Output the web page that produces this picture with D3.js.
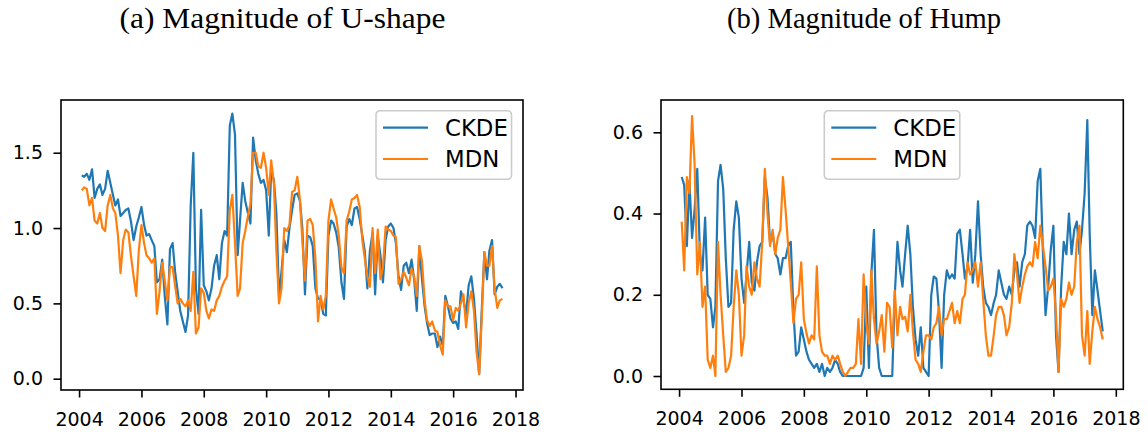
<!DOCTYPE html>
<html>
<head>
<meta charset="utf-8">
<script src="https://cdn.jsdelivr.net/npm/d3@7"></script>
<style>
  html, body { margin: 0; padding: 0; background: #ffffff; }
  svg { display: block; }
</style>
</head>
<body>
<svg id="chart" width="1148" height="434"></svg>
<script>
// Monthly observations, Feb 2004 through Aug 2017 (163 points per series).
const dates = d3.range(1, 164).map(m => new Date(2004, m, 1));

const seriesNames = ["CKDE", "MDN"];
const xTickYears = [2004, 2006, 2008, 2010, 2012, 2014, 2016, 2018];
const uShapeTicks = [0.0, 0.5, 1.0, 1.5];
const humpTicks = [0.0, 0.2, 0.4, 0.6];

// (a) magnitude of the U-shape
const ckdeUShape = [
  1.35, 1.34, 1.36, 1.32, 1.39, 1.20, 1.26, 1.29, 1.22, 1.26, 1.38,
  1.30, 1.22, 1.15, 1.19, 1.08, 1.10, 1.12, 1.13, 1.04, 0.92, 1.01, 1.07,
  1.14, 1.02, 0.95, 0.96, 0.92, 0.88, 0.64, 0.66, 0.79, 0.55, 0.36, 0.86,
  0.90, 0.70, 0.58, 0.45, 0.38, 0.31, 0.42, 1.15, 1.50, 0.60, 0.43, 1.12,
  0.62, 0.58, 0.52, 0.60, 0.75, 0.82, 0.66, 0.90, 0.98, 0.95, 1.68, 1.76,
  1.62, 0.82, 1.05, 1.30, 1.18, 1.10, 1.03, 1.60, 1.45, 1.36, 1.30, 1.32,
  1.25, 0.95, 1.38, 1.32, 1.10, 0.54, 0.72, 0.92, 0.84, 1.00, 1.12, 1.22,
  1.23, 1.18, 1.00, 0.56, 0.95, 0.94, 0.88, 0.60, 0.53, 0.53, 0.43, 0.42,
  0.95, 1.05, 1.03, 0.97, 0.87, 0.64, 0.53, 1.01, 1.06, 1.02, 1.13, 1.14,
  1.06, 0.95, 0.85, 0.60, 0.85, 0.97, 0.56, 0.95, 0.82, 0.64, 0.92, 1.01,
  1.03, 1.00, 0.90, 0.68, 0.59, 0.75, 0.77, 0.70, 0.79, 0.66, 0.45, 0.88,
  0.66, 0.48, 0.37, 0.29, 0.30, 0.30, 0.21, 0.28, 0.22, 0.55, 0.48, 0.40,
  0.37, 0.38, 0.33, 0.58, 0.52, 0.43, 0.62, 0.68, 0.53, 0.30, 0.03, 0.45,
  0.84, 0.66, 0.85, 0.92, 0.56, 0.61, 0.63, 0.60
];
const mdnUShape = [
  1.25, 1.27, 1.26, 1.15, 1.20, 1.05, 1.03, 1.10, 1.00, 0.98, 1.15,
  1.22, 1.13, 1.10, 0.95, 0.70, 0.92, 0.99, 0.97, 0.81, 0.68, 0.55, 0.85,
  1.02, 0.90, 0.82, 0.80, 0.77, 0.80, 0.43, 0.58, 0.77, 0.65, 0.52, 0.74,
  0.74, 0.61, 0.50, 0.53, 0.50, 0.48, 0.52, 0.45, 0.71, 0.30, 0.34, 0.60,
  0.57, 0.45, 0.40, 0.46, 0.45, 0.52, 0.55, 0.61, 0.65, 0.68, 1.12, 1.22,
  0.90, 0.55, 0.60, 0.90, 0.98, 1.08, 1.16, 1.50, 1.50, 1.41, 1.40, 1.50,
  1.40, 1.22, 1.45, 1.30, 0.85, 0.50, 0.60, 1.00, 0.98, 1.02, 1.24, 1.25,
  1.34, 1.19, 0.92, 0.65, 1.05, 1.06, 1.02, 0.80, 0.38, 0.55, 0.46, 0.55,
  1.05, 1.19, 1.13, 1.07, 0.95, 0.74, 0.70, 1.05, 1.11, 1.19, 1.20, 1.22,
  1.14, 0.92, 0.80, 0.68, 0.61, 1.00, 0.70, 0.99, 0.66, 0.74, 1.01, 0.99,
  0.98, 0.95, 0.94, 0.63, 0.66, 0.71, 0.67, 0.62, 0.73, 0.68, 0.55, 0.88,
  0.78, 0.52, 0.39, 0.35, 0.38, 0.32, 0.31, 0.22, 0.16, 0.52, 0.48, 0.48,
  0.39, 0.47, 0.45, 0.50, 0.56, 0.34, 0.50, 0.58, 0.45, 0.18, 0.03, 0.40,
  0.84, 0.75, 0.75, 0.88, 0.60, 0.47, 0.52, 0.53
];

// (b) magnitude of the hump
const ckdeHump = [
  0.49, 0.47, 0.32, 0.48, 0.34, 0.41, 0.51, 0.30, 0.26, 0.39, 0.20,
  0.19, 0.12, 0.17, 0.48, 0.52, 0.46, 0.29, 0.17, 0.18, 0.36, 0.43, 0.39,
  0.24, 0.18, 0.25, 0.33, 0.23, 0.21, 0.28, 0.32, 0.33, 0.49, 0.44, 0.33,
  0.35, 0.30, 0.29, 0.25, 0.29, 0.29, 0.32, 0.33, 0.16, 0.05, 0.06, 0.12,
  0.09, 0.06, 0.04, 0.03, 0.02, 0.03, 0.01, 0.03, 0.00, 0.02, 0.01, 0.02,
  0.04, 0.03, 0.01, 0.00, 0.00, 0.00, 0.00, 0.00, 0.00, 0.00, 0.00, 0.02,
  0.22, 0.02, 0.25, 0.36, 0.10, 0.02, 0.00, 0.00, 0.00, 0.00, 0.00, 0.20,
  0.33, 0.26, 0.22, 0.30, 0.37, 0.30, 0.17, 0.09, 0.05, 0.12, 0.02, 0.01,
  0.00, 0.20, 0.245, 0.24, 0.16, 0.02, 0.20, 0.26, 0.24, 0.25, 0.24, 0.35,
  0.36, 0.30, 0.24, 0.27, 0.36, 0.23, 0.30, 0.43, 0.30, 0.22, 0.18, 0.17,
  0.15, 0.18, 0.20, 0.26, 0.23, 0.20, 0.19, 0.22, 0.20, 0.26, 0.28, 0.22,
  0.28, 0.30, 0.37, 0.38, 0.37, 0.34, 0.48, 0.51, 0.30, 0.15, 0.22, 0.31,
  0.37, 0.10, 0.01, 0.22, 0.33, 0.30, 0.40, 0.30, 0.36, 0.38, 0.30, 0.36,
  0.45, 0.63, 0.35, 0.15, 0.26, 0.21, 0.16, 0.11
];
const mdnHump = [
  0.38, 0.26, 0.49, 0.45, 0.64, 0.52, 0.25, 0.33, 0.17, 0.22, 0.04,
  0.02, 0.05, 0.00, 0.33, 0.20, 0.10, 0.01, 0.02, 0.05, 0.17, 0.26, 0.20,
  0.05, 0.10, 0.27, 0.22, 0.20, 0.28, 0.24, 0.22, 0.33, 0.51, 0.40, 0.32,
  0.36, 0.30, 0.34, 0.36, 0.49, 0.41, 0.32, 0.23, 0.13, 0.19, 0.20, 0.28,
  0.14, 0.105, 0.08, 0.10, 0.09, 0.27, 0.10, 0.06, 0.05, 0.05, 0.03, 0.05,
  0.04, 0.05, 0.03, 0.01, 0.00, 0.01, 0.02, 0.02, 0.03, 0.14, 0.03, 0.25,
  0.13, 0.08, 0.26, 0.14, 0.08, 0.11, 0.15, 0.06, 0.18, 0.17, 0.07, 0.21,
  0.10, 0.17, 0.14, 0.146, 0.11, 0.20, 0.11, 0.04, 0.03, 0.01, 0.06, 0.10,
  0.10, 0.09, 0.12, 0.13, 0.17, 0.10, 0.14, 0.14, 0.16, 0.18, 0.13, 0.16,
  0.13, 0.19, 0.20, 0.28, 0.25, 0.26, 0.28, 0.22, 0.28, 0.19, 0.10, 0.05,
  0.05, 0.10, 0.15, 0.17, 0.17, 0.15, 0.10, 0.12, 0.18, 0.30, 0.25, 0.18,
  0.22, 0.25, 0.27, 0.28, 0.27, 0.33, 0.29, 0.37, 0.32, 0.27, 0.21, 0.22,
  0.24, 0.15, 0.01, 0.19, 0.17, 0.19, 0.23, 0.20, 0.22, 0.33, 0.37, 0.10,
  0.05, 0.16, 0.03, 0.11, 0.17, 0.14, 0.12, 0.09
];

const colors = ["#1f77b4", "#ff7f0e"];
const tickFont = "'DejaVu Sans', 'Liberation Sans', sans-serif";
const titleFont = "'Liberation Serif', 'DejaVu Serif', serif";

// Convert a fractional year to a Date (used for the axis limits).
function fromDecimalYear(v) {
  const yr = Math.floor(v);
  const a = new Date(yr, 0, 1), b = new Date(yr + 1, 0, 1);
  return new Date(+a + (v - yr) * (b - a));
}

const panels = [
  {
    title: "(a) Magnitude of U-shape", titleX: 282.5, titleWidth: 326,
    left: 61, right: 523, top: 100, bottom: 390,
    yDomain: [-0.075, 1.85], yTicks: uShapeTicks,
    series: [ckdeUShape, mdnUShape], legendX: 376
  },
  {
    title: "(b) Magnitude of Hump", titleX: 864, titleWidth: 274,
    left: 661, right: 1123.3, top: 100, bottom: 389.3,
    yDomain: [-0.0327, 0.6795], yTicks: humpTicks,
    series: [ckdeHump, mdnHump], legendX: 824.3
  }
];

const svg = d3.select("#chart");
svg.append("rect").attr("width", 1148).attr("height", 434).attr("fill", "#ffffff");

panels.forEach(p => {
  const x = d3.scaleTime()
    .domain([fromDecimalYear(2003.42), fromDecimalYear(2018.24)])
    .range([p.left, p.right]);
  const y = d3.scaleLinear().domain(p.yDomain).range([p.bottom, p.top]);

  // title
  svg.append("text")
    .attr("x", p.titleX).attr("y", 28)
    .attr("text-anchor", "middle")
    .attr("font-family", titleFont)
    .attr("font-size", 29)
    .attr("textLength", p.titleWidth)
    .attr("lengthAdjust", "spacingAndGlyphs")
    .attr("fill", "#000")
    .text(p.title);

  // x axis
  const gx = svg.append("g")
    .attr("transform", `translate(0,${p.bottom})`)
    .call(d3.axisBottom(x)
      .tickValues(xTickYears.map(yr => new Date(yr, 0, 1)))
      .tickFormat(d3.timeFormat("%Y"))
      .tickSize(7.5)
      .tickPadding(15));
  // y axis
  const gy = svg.append("g")
    .attr("transform", `translate(${p.left},0)`)
    .call(d3.axisLeft(y)
      .tickValues(p.yTicks)
      .tickFormat(d3.format(".1f"))
      .tickSize(7.5)
      .tickPadding(10.5));

  [gx, gy].forEach(g => {
    g.select(".domain").remove();
    g.selectAll(".tick line").attr("stroke", "#000").attr("stroke-width", 1.6);
    g.selectAll(".tick text")
      .attr("fill", "#000")
      .attr("font-family", tickFont)
      .attr("font-size", 19);
  });

  // series lines
  const line = d3.line()
    .x((d, i) => x(dates[i]))
    .y(d => y(d));
  p.series.forEach((vals, k) => {
    svg.append("path")
      .datum(vals)
      .attr("fill", "none")
      .attr("stroke", colors[k])
      .attr("stroke-width", 2.2)
      .attr("stroke-linejoin", "round")
      .attr("d", line);
  });

  // axes frame
  svg.append("rect")
    .attr("x", p.left).attr("y", p.top)
    .attr("width", p.right - p.left).attr("height", p.bottom - p.top)
    .attr("fill", "none")
    .attr("stroke", "#000")
    .attr("stroke-width", 1.6);

  // legend
  const lg = svg.append("g").attr("transform", `translate(${p.legendX},110.7)`);
  lg.append("rect")
    .attr("width", 135.5).attr("height", 68.6)
    .attr("rx", 4).attr("ry", 4)
    .attr("fill", "#ffffff").attr("fill-opacity", 0.8)
    .attr("stroke", "#cccccc").attr("stroke-width", 1.6);
  seriesNames.forEach((name, k) => {
    const cy = 17 + k * 31.3;
    lg.append("line")
      .attr("x1", 7).attr("x2", 52)
      .attr("y1", cy).attr("y2", cy)
      .attr("stroke", colors[k]).attr("stroke-width", 2.2);
    lg.append("text")
      .attr("x", 69).attr("y", cy + 8.3)
      .attr("font-family", tickFont)
      .attr("font-size", 22.8)
      .attr("fill", "#000")
      .text(name);
  });
});
</script>
</body>
</html>
